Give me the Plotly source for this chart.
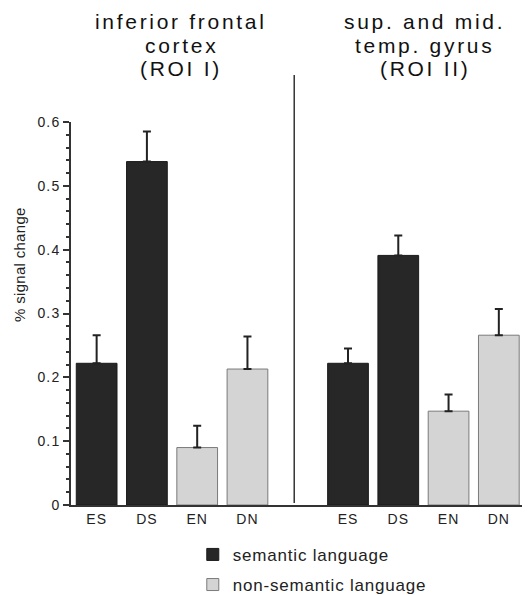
import plotly.graph_objects as go

# Data
conditions = ["ES", "DS", "EN", "DN"]
roi1_values = [0.222, 0.538, 0.090, 0.213]
roi1_errors = [0.044, 0.047, 0.034, 0.051]
roi2_values = [0.222, 0.391, 0.147, 0.266]
roi2_errors = [0.023, 0.031, 0.026, 0.041]
series_names = ["semantic language", "non-semantic language"]
titles = [["inferior frontal", "cortex", "(ROI I)"],
          ["sup. and mid.", "temp. gyrus", "(ROI II)"]]
y_label = "% signal change"
y_ticks = [0, 0.1, 0.2, 0.3, 0.4, 0.5, 0.6]


def wide(txt, px):
    return f'<span style="letter-spacing:{px}px">{txt}</span>'


DARK = "#272727"
LIGHT = "#d4d4d4"
FONT = "Liberation Sans, Arial, sans-serif"

# positions: group 1 at 0..3, group 2 at 5..8
pos1 = list(range(4))
pos2 = [p + 5 for p in range(4)]
positions = pos1 + pos2
labels = conditions + conditions
values = roi1_values + roi2_values
errors = roi1_errors + roi2_errors
semantic = [c.endswith("S") for c in labels]

fig = go.Figure()
for i, (name, flag, fill, edge) in enumerate([(series_names[0], True, DARK, "#1a1a1a"),
                                              (series_names[1], False, LIGHT, "#7a7a7a")]):
    xs = [p for p, s in zip(positions, semantic) if s == flag]
    ys = [v for v, s in zip(values, semantic) if s == flag]
    es = [e for e, s in zip(errors, semantic) if s == flag]
    fig.add_trace(go.Bar(
        x=xs, y=ys, name=wide(name, 0.8), width=0.81, legendgroup=f"g{i}",
        marker=dict(color=fill, line=dict(color=edge, width=1)),
        error_y=dict(type="data", array=es, arrayminus=[0] * len(es),
                     symmetric=False, color="#222222", thickness=2, width=4),
    ))

# divider between the two ROIs
fig.add_shape(type="line", xref="x", yref="paper", x0=3.93, x1=3.93,
              y0=0.005, y1=1.123, line=dict(color="#333333", width=1.5))

# titles
for cx, lines in zip([0.240, 0.771], titles):
    for ly, txt in zip([1.2624, 1.2010, 1.1384], lines):
        fig.add_annotation(text=wide(txt, 2.7), xref="paper", yref="paper", x=cx, y=ly,
                           xanchor="center", yanchor="middle", showarrow=False,
                           font=dict(family=FONT, size=21, color="#111111"))

# y label
fig.add_annotation(text=wide(y_label, 0.3), xref="paper", yref="paper", x=-0.111, y=0.627,
                   textangle=-90, xanchor="center", yanchor="middle", showarrow=False,
                   font=dict(family=FONT, size=15, color="#222222"))

fig.update_layout(
    width=522, height=587,
    margin=dict(l=63, r=0, t=114, b=90, autoexpand=False),
    paper_bgcolor="white", plot_bgcolor="white",
    barmode="overlay",
    font=dict(family=FONT, color="#222222"),
    legend=dict(xref="container", yref="container", x=0.354, y=0.099,
                xanchor="left", yanchor="top",
                font=dict(family=FONT, size=17, color="#222222"),
                bgcolor="rgba(0,0,0,0)", tracegroupgap=5),
    xaxis=dict(range=[-0.51, 8.62], tickmode="array", tickvals=positions,
               ticktext=[wide(t, 1) for t in labels], showline=True,
               linecolor="#333333", linewidth=1.5, automargin=False,
               ticks="", showgrid=False, zeroline=False,
               tickfont=dict(family=FONT, size=14, color="#222222")),
    yaxis=dict(range=[0, 0.6], tickmode="array", tickvals=y_ticks,
               ticktext=[wide(f"{v:g}", 1.2) for v in y_ticks],
               showline=True, linecolor="#333333", linewidth=1.5, automargin=False,
               ticks="outside", ticklen=6, tickwidth=1.5, tickcolor="#333333",
               minor=dict(dtick=0.02, ticks="outside", ticklen=3, tickwidth=1.5,
                          tickcolor="#333333", showgrid=False),
               showgrid=False, zeroline=False,
               tickfont=dict(family=FONT, size=14, color="#222222")),
)

fig.write_html("out.html")
